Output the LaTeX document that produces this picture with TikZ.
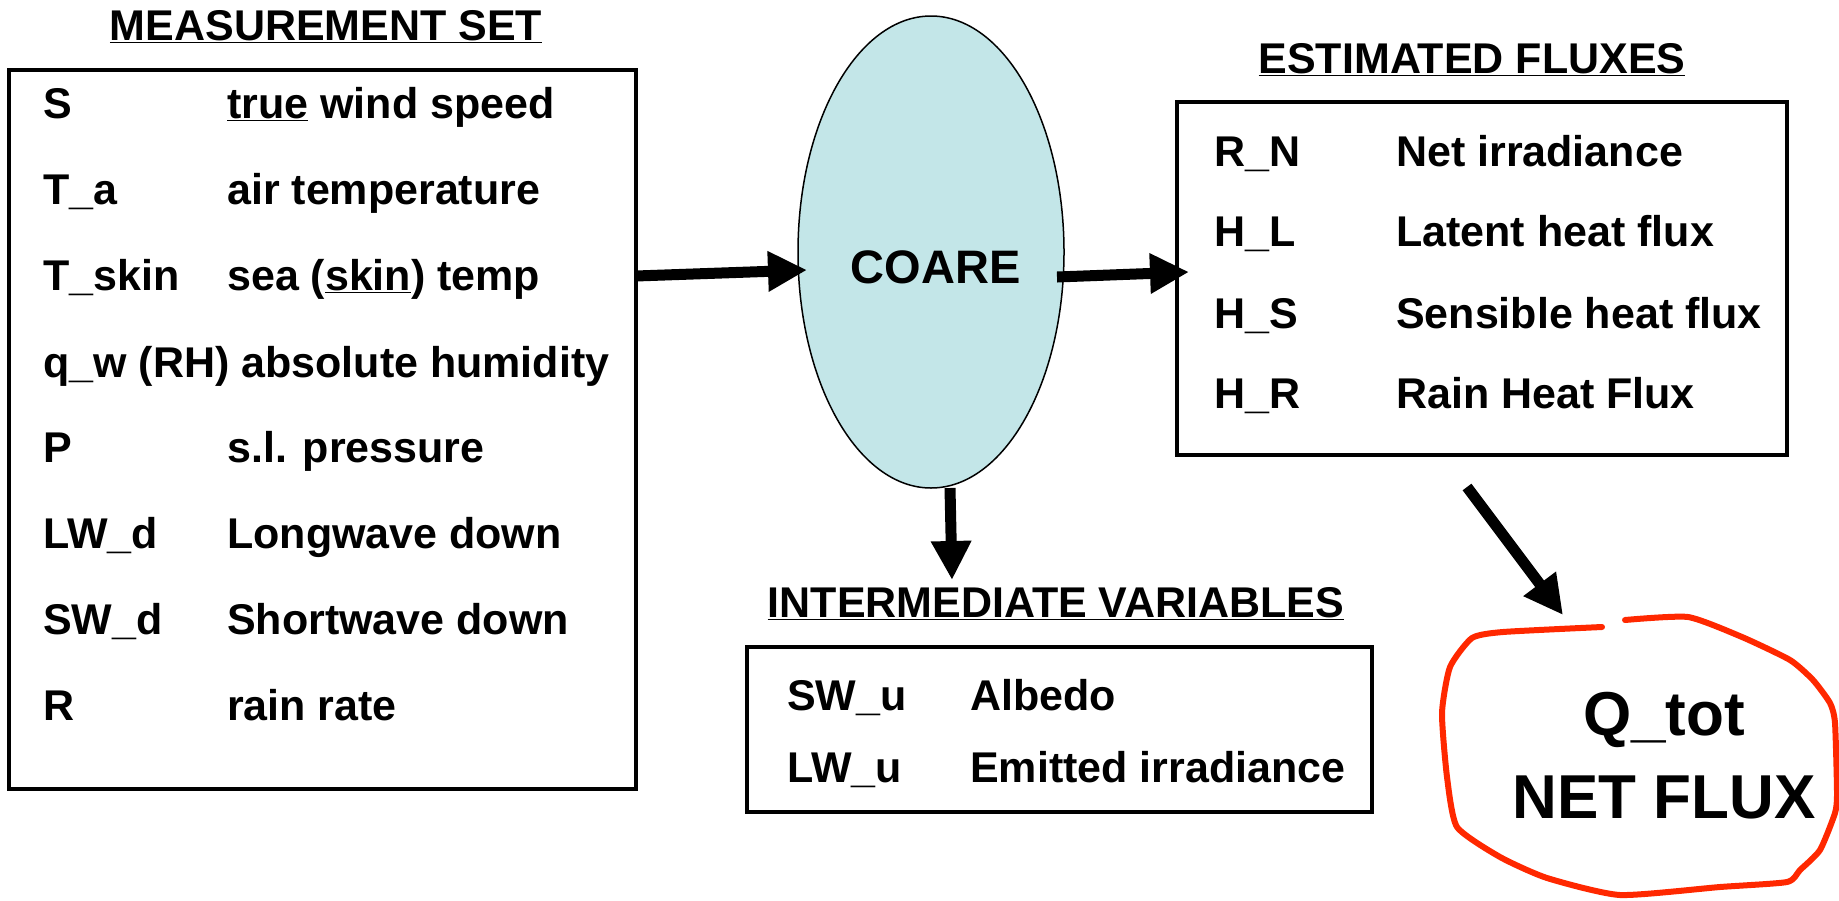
\documentclass[tikz,border=0pt]{standalone}
\usepackage{fontspec}
\setmainfont{Liberation Sans}
\usetikzlibrary{shapes.geometric, arrows.meta, calc}
\definecolor{coarefill}{RGB}{195,230,232}
\definecolor{blobred}{RGB}{255,40,0}
\begin{document}
\begin{tikzpicture}[x=1pt, y=-1pt,
  txt/.style={font=\fontsize{43}{50}\selectfont\bfseries, inner sep=0pt, anchor=base west},
  ttl/.style={font=\fontsize{43}{50}\selectfont\bfseries, inner sep=0pt, anchor=base},
  bigtxt/.style={font=\fontsize{62}{70}\selectfont\bfseries, inner sep=0pt, anchor=base},
  box/.style={draw, line width=4.5pt, inner sep=0pt, outer sep=0pt},
  arr/.style={line width=11pt, -{Triangle[length=39pt, width=38pt]}},
  blob/.style={draw=blobred, line width=6pt, line join=round, line cap=round}
]
\path[use as bounding box, fill=white] (0,0) rectangle (1839,900);

% Measurement set
\node[ttl] (mtitle) at (326,40) {\underline{MEASUREMENT SET}};
\node[box, minimum width=627pt, minimum height=719pt] (meas) at (322.5,429.5) {};
\node[txt] (m1a) at (43,118) {S};
\node[txt] (m1b) at (227,118) {\underline{true} wind speed};
\node[txt] (m2a) at (43,204) {T\_a};
\node[txt] (m2b) at (227,204) {air temperature};
\node[txt] (m3a) at (43,290) {T\_skin};
\node[txt] (m3b) at (227,290) {sea (\underline{skin}) temp};
\node[txt] (m4a) at (43,377) {q\_w (RH) absolute humidity};
\node[txt] (m5a) at (43,462) {P};
\node[txt] (m5b) at (227,462) {s.l. pressure};
\node[txt] (m6a) at (43,548) {LW\_d};
\node[txt] (m6b) at (227,548) {Longwave down};
\node[txt] (m7a) at (43,634) {SW\_d};
\node[txt] (m7b) at (227,634) {Shortwave down};
\node[txt] (m8a) at (43,720) {R};
\node[txt] (m8b) at (227,720) {rain rate};

% COARE
\node[ellipse, draw, line width=1.5pt, fill=coarefill, minimum width=266pt, minimum height=472pt, inner sep=0pt, outer sep=0pt] (coare) at (931,252) {};
\node[font=\fontsize{47}{52}\selectfont\bfseries, inner sep=0pt, anchor=base] (coaretxt) at (935.5,283) {COARE};

% Estimated fluxes
\node[ttl] (ftitle) at (1472,73) {\underline{ESTIMATED FLUXES}};
\node[box, minimum width=610pt, minimum height=353pt] (flux) at (1482,278.5) {};
\node[txt] (f1a) at (1214,166) {R\_N};
\node[txt] (f1b) at (1396,166) {Net irradiance};
\node[txt] (f2a) at (1214,246) {H\_L};
\node[txt] (f2b) at (1396,246) {Latent heat flux};
\node[txt] (f3a) at (1214,328) {H\_S};
\node[txt] (f3b) at (1396,328) {Sensible heat flux};
\node[txt] (f4a) at (1214,408) {H\_R};
\node[txt] (f4b) at (1396,408) {Rain Heat Flux};

% Intermediate variables
\node[ttl] (ititle) at (1056,617) {\underline{INTERMEDIATE VARIABLES}};
\node[box, minimum width=625pt, minimum height=165pt] (inter) at (1059.5,729.5) {};
\node[txt] (i1a) at (787,710) {SW\_u};
\node[txt] (i1b) at (970,710) {Albedo};
\node[txt] (i2a) at (787,782) {LW\_u};
\node[txt] (i2b) at (970,782) {Emitted irradiance};

% Net flux blob
\draw[blob] plot[smooth, tension=0.35] coordinates {
 (1625,620) (1688,617) (1742,637) (1790,660) (1813,680) (1830,703) (1835,723)
 (1837,793) (1835,813) (1820,850) (1800,870) (1787,882) (1720,887) (1620,895)
 (1547,878) (1500,857) (1457,827) (1447,777) (1442,713) (1450,667) (1472,638)
 (1503,632) (1602,627)};
\coordinate (gap) at (1613,623);
\node[bigtxt] (q1) at (1664,735) {Q\_tot};
\node[bigtxt] (q2) at (1664,818) {NET FLUX};

% Connectors
\draw[arr] ($(meas.east)+(0,-153.5)$) -- ($(coare.west)+(9,18)$);
\draw[arr] ($(coare.east)+(-7,25)$) -- ($(flux.west)+(12,-6.5)$);
\draw[arr] ($(coare.south)+(19,0)$) -- ($(coare.south)+(21,92)$);
\draw[arr] ($(flux.south)+(-15,32)$) -- ($(gap)+(-50,-8)$);
\end{tikzpicture}
\end{document}
